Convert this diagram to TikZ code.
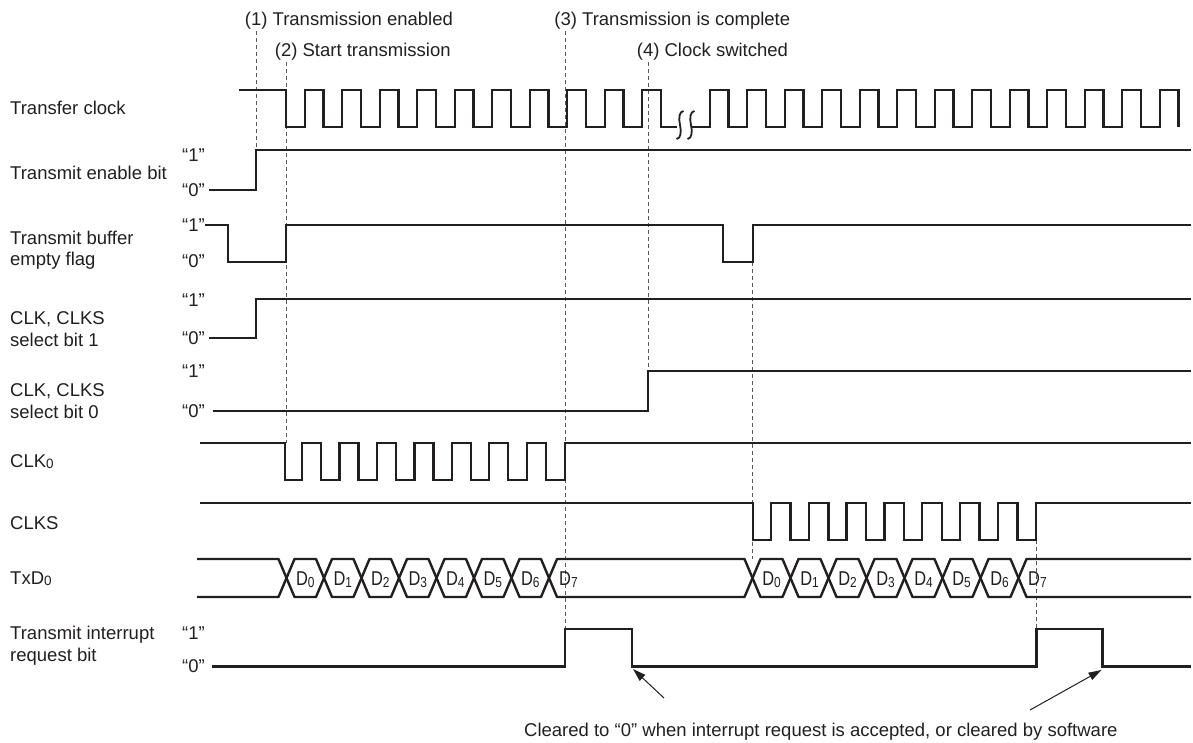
\documentclass[tikz,border=0pt]{standalone}
\usepackage{fontspec}
\setmainfont{Liberation Sans}
\usepackage{graphicx}
\usetikzlibrary{arrows.meta}
\definecolor{ink}{RGB}{35,31,32}
\newcommand{\lowdig}[1]{\raisebox{-1.2pt}{\fontsize{13.5}{14}\selectfont #1}}
\newcommand{\dlab}[1]{\scalebox{0.82}[1]{{\fontsize{20}{22}\selectfont D}\raisebox{-1.5pt}{\fontsize{14.5}{15}\selectfont #1}}}
\begin{document}
\begin{tikzpicture}[x=1pt,y=-1pt,
  sig/.style={line width=2.4pt, draw=ink, line join=miter},
  hexcell/.style={line width=2.4pt, draw=ink, line join=round},
  guide/.style={line width=0.8pt, draw=ink!75, dash pattern=on 4pt off 3pt},
  lbl/.style={anchor=base west, inner sep=0pt, text=ink, font=\fontsize{18.5}{22}\selectfont},
  dtxt/.style={anchor=base, inner sep=0pt, text=ink, font=\fontsize{18.5}{22}\selectfont},
  note/.style={-{Triangle[length=13pt,width=8pt]}, line width=1pt, draw=ink}]
\useasboundingbox (0,0) rectangle (1193,742);

% ---------- event labels ----------
\node[lbl] (ev1) at (244.7,25) {(1) Transmission enabled};
\node[lbl] (ev2) at (274.7,56) {(2) Start transmission};
\node[lbl] (ev3) at (554.2,25) {(3) Transmission is complete};
\node[lbl] (ev4) at (636.7,56) {(4) Clock switched};

% ---------- guide lines ----------
\draw[guide] (256,31) -- (256,150);
\draw[guide] (286,62) -- (286,443);
\draw[guide] (565.5,31) -- (565.5,629);
\draw[guide] (648,62) -- (648,371);
\draw[guide] (752.7,262) -- (752.7,559);
\draw[guide] (1036.5,540) -- (1036.5,629);

% ---------- signal names ----------
\node[lbl] (n1) at (10,114.6) {Transfer clock};
\node[lbl] (n2) at (10,179.5) {Transmit enable bit};
\node[lbl] (n3a) at (10,244) {Transmit buffer};
\node[lbl] (n3b) at (10,265) {empty flag};
\node[lbl] (n4a) at (10,324.5) {CLK, CLKS};
\node[lbl] (n4b) at (10,346.5) {select bit 1};
\node[lbl] (n5a) at (10,396.5) {CLK, CLKS};
\node[lbl] (n5b) at (10,418) {select bit 0};
\node[lbl] (n6) at (10,467.5) {CLK\lowdig{0}};
\node[lbl] (n7) at (10,529) {CLKS};
\node[lbl] (n8) at (10,584.5) {TxD\lowdig{0}};
\node[lbl] (n9a) at (10,639.5) {Transmit interrupt};
\node[lbl] (n9b) at (10,661.5) {request bit};

% ---------- level labels ----------
\node[lbl] (l1a) at (182,161) {“1”};
\node[lbl] (l1b) at (182,196.6) {“0”};
\node[lbl] (l2a) at (182,231) {“1”};
\node[lbl] (l2b) at (182,267.6) {“0”};
\node[lbl] (l3a) at (182,306.6) {“1”};
\node[lbl] (l3b) at (182,344.6) {“0”};
\node[lbl] (l4a) at (182,377.6) {“1”};
\node[lbl] (l4b) at (182,417.6) {“0”};
\node[lbl] (l5a) at (182,639.6) {“1”};
\node[lbl] (l5b) at (182,672.6) {“0”};

% ---------- transfer clock ----------
\draw[sig] (239,90) foreach \k in {0,...,9} {
    -- ({286+37.5*\k},90) -- ({286+37.5*\k},127)
    -- ({304.75+37.5*\k},127) -- ({304.75+37.5*\k},90) }
  -- (661,90) -- (661,127) -- (677,127);
\draw[sig] (692,127) foreach \k in {0,...,12} {
    -- ({709.7+37.5*\k},127) -- ({709.7+37.5*\k},90)
    -- ({728.45+37.5*\k},90) -- ({728.45+37.5*\k},127) };
% break marks
\foreach \x in {680,691} {
  \draw[line width=1.8pt, draw=ink] (\x-3.5,139) .. controls (\x+1,138.5) and (\x+1.5,131.5) .. (\x,125)
     .. controls (\x-1.5,118.5) and (\x-1,111.5) .. (\x+3.5,111);
}

% ---------- transmit enable bit ----------
\draw[sig] (209,190) -- (256,190) -- (256,150) -- (1191,150);

% ---------- transmit buffer empty flag ----------
\draw[sig] (205,225) -- (228,225) -- (228,262) -- (286,262) -- (286,225)
  -- (722.7,225) -- (722.7,262) -- (752.7,262) -- (752.7,225) -- (1191,225);

% ---------- select bit 1 ----------
\draw[sig] (209,338) -- (256,338) -- (256,299) -- (1191,299);

% ---------- select bit 0 ----------
\draw[sig] (213,411) -- (648,411) -- (648,371) -- (1191,371);

% ---------- CLK0 ----------
\draw[sig] (200,443) -- (285,443) -- (285,480) foreach \k in {0,...,6} {
    -- ({302+37.45*\k},480) -- ({302+37.45*\k},443)
    -- ({321+37.45*\k},443) -- ({321+37.45*\k},480) }
  -- (565,480) -- (565,443) -- (1191,443);

% ---------- CLKS ----------
\draw[sig] (200,503) -- (752.7,503) -- (752.7,540) foreach \k in {0,...,6} {
    -- ({771+37.8*\k},540) -- ({771+37.8*\k},503)
    -- ({790.5+37.8*\k},503) -- ({790.5+37.8*\k},540) }
  -- (1036,540) -- (1036,503) -- (1191,503);

% ---------- TxD0 ----------
\draw[hexcell] (197,559) -- (278.5,559) -- (286.5,578) -- (278.5,597) -- (197,597);
\foreach \a/\b/\d in {286.5/324/0, 324/361.5/1, 361.5/399/2, 399/436.5/3,
                      436.5/474/4, 474/511.5/5, 511.5/549/6,
                      752.5/790.5/0, 790.5/828.5/1, 828.5/866.5/2, 866.5/904.5/3,
                      904.5/942.5/4, 942.5/980.5/5, 980.5/1018.5/6} {
  \draw[hexcell] (\a,578) -- (\a+8,559) -- (\b-8,559) -- (\b,578) -- (\b-8,597) -- (\a+8,597) -- cycle;
  \node[dtxt] at ({(\a+\b)/2},585.5) {\dlab{\d}};
}
\draw[hexcell] (549,578) -- (557,559) -- (744.5,559) -- (752.5,578) -- (744.5,597) -- (557,597) -- cycle;
\draw[hexcell] (1191,559) -- (1026.5,559) -- (1018.5,578) -- (1026.5,597) -- (1191,597);
\node[lbl] (d7a) at (559,585.5) {\dlab{7}};
\node[lbl] (d7b) at (1028,585.5) {\dlab{7}};

% ---------- transmit interrupt request bit ----------
\draw[sig] (212,666.5) -- (565,666.5) -- (565,629) -- (632,629) -- (632,666.5)
  -- (1036.5,666.5) -- (1036.5,629) -- (1102.5,629) -- (1102.5,666.5) -- (1191,666.5);

% ---------- note ----------
\node[lbl] (clr) at (524,736.7) {Cleared to “0” when interrupt request is accepted, or cleared by software};
\coordinate (t1) at (664,698);
\coordinate (e1) at (633,669);
\coordinate (t2) at (1030,710);
\coordinate (e2) at (1101.5,670);
\draw[note] (t1) -- (e1);
\draw[note] (t2) -- (e2);
\end{tikzpicture}
\end{document}
